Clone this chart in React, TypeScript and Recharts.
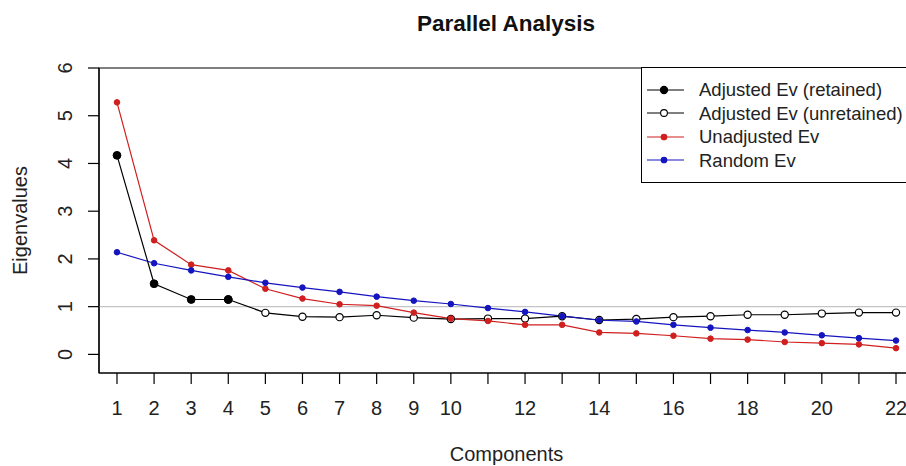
import { LineChart, Line, XAxis, YAxis, ReferenceLine, ReferenceArea, Legend } from 'recharts'

const components = [1, 2, 3, 4, 5, 6, 7, 8, 9, 10, 11, 12, 13, 14, 15, 16, 17, 18, 19, 20, 21, 22]
const adjustedEv = [4.17, 1.48, 1.15, 1.15, 0.87, 0.79, 0.78, 0.82, 0.77, 0.74, 0.75, 0.75, 0.8, 0.72, 0.74, 0.78, 0.8, 0.83, 0.83, 0.855, 0.875, 0.875]
const unadjustedEv = [5.28, 2.39, 1.88, 1.76, 1.375, 1.17, 1.05, 1.02, 0.875, 0.75, 0.7, 0.62, 0.62, 0.46, 0.44, 0.39, 0.33, 0.31, 0.26, 0.235, 0.21, 0.13]
const randomEv = [2.14, 1.91, 1.76, 1.625, 1.5, 1.4, 1.31, 1.21, 1.125, 1.056, 0.97, 0.89, 0.8, 0.715, 0.69, 0.62, 0.56, 0.51, 0.46, 0.4, 0.34, 0.29]
const retainedCount = 4
const xTickLabels = [1, 2, 3, 4, 5, 6, 7, 8, 9, 10, 12, 14, 16, 18, 20, 22]
const yTicks = [0, 1, 2, 3, 4, 5, 6]

const X_DOMAIN: [number, number] = [0.515, 22.485]
const Y_DOMAIN: [number, number] = [-0.39, 6]

const RED = '#d01f1f'
const BLUE = '#1515c0'
const FONT = '"Liberation Sans", Arial, sans-serif'

const data = components.map((c, i) => ({
  comp: c,
  retained: i < retainedCount ? adjustedEv[i] : null,
  unretained: i >= retainedCount - 1 ? adjustedEv[i] : null,
  unadjusted: unadjustedEv[i],
  random: randomEv[i],
}))

const legendItems = [
  { label: 'Adjusted Ev (retained)', color: '#000', fill: '#000', r: 3.6 },
  { label: 'Adjusted Ev (unretained)', color: '#000', fill: '#fff', r: 3.4 },
  { label: 'Unadjusted Ev', color: RED, fill: RED, r: 2.8 },
  { label: 'Random Ev', color: BLUE, fill: BLUE, r: 2.8 },
]

const XTick = ({ x, payload }: any) =>
  xTickLabels.includes(payload.value) ? (
    <text x={x} y={415} textAnchor="middle" fontSize={20} fill="#222" fontFamily={FONT}>
      {payload.value}
    </text>
  ) : null

const YTick = ({ y, payload }: any) => (
  <text x={72} y={y} transform={`rotate(-90 72 ${y})`} textAnchor="middle" fontSize={20} fill="#222" fontFamily={FONT}>
    {payload.value}
  </text>
)

const renderLegend = () => (
  <div
    style={{
      border: '1px solid #000',
      background: '#fff',
      width: 300,
      height: 116,
      boxSizing: 'border-box',
      paddingTop: 10,
      fontFamily: FONT,
    }}
  >
    {legendItems.map(item => (
      <div key={item.label} style={{ display: 'flex', alignItems: 'center', height: 23.5, lineHeight: '23.5px' }}>
        <svg width={56} height={20} style={{ flex: 'none' }}>
          <line x1={5} x2={42} y1={10} y2={10} stroke={item.color} strokeWidth={1.2} />
          <circle cx={22} cy={10} r={item.r} fill={item.fill} stroke={item.color} strokeWidth={1.1} />
        </svg>
        <span style={{ fontSize: 18.5, color: '#222', marginLeft: 1, whiteSpace: 'nowrap' }}>{item.label}</span>
      </div>
    ))}
  </div>
)

export default function App() {
  return (
    <div style={{ position: 'absolute', left: 0, top: 0, width: 906, height: 466, overflow: 'hidden', background: '#fff', fontFamily: FONT }}>
      <div
        style={{
          position: 'absolute',
          left: 306,
          top: 6,
          width: 400,
          textAlign: 'center',
          fontSize: 22.5,
          fontWeight: 'bold',
          color: '#111',
          lineHeight: '36px',
          zIndex: 1,
        }}
      >
        Parallel Analysis
      </div>
      <LineChart width={920} height={466} data={data} margin={{ top: 68, right: 6, bottom: 0, left: 0 }}>
        <ReferenceArea
          x1={X_DOMAIN[0]}
          x2={X_DOMAIN[1]}
          y1={Y_DOMAIN[0]}
          y2={Y_DOMAIN[1]}
          fill="none"
          fillOpacity={0}
          stroke="#000"
          strokeWidth={1.2}
          strokeOpacity={1}
        />
        <XAxis
          dataKey="comp"
          type="number"
          domain={X_DOMAIN}
          ticks={components}
          interval={0}
          allowDataOverflow
          height={93}
          tickSize={11}
          axisLine={{ stroke: '#000', strokeWidth: 1.2 }}
          tickLine={{ stroke: '#000', strokeWidth: 1.2 }}
          tick={<XTick />}
          label={({ viewBox }: any) => (
            <text x={viewBox ? viewBox.x + viewBox.width / 2 : 506} y={461} textAnchor="middle" fontSize={20} fill="#222" fontFamily={FONT}>
              Components
            </text>
          )}
        />
        <YAxis
          type="number"
          domain={Y_DOMAIN}
          ticks={yTicks}
          interval={0}
          allowDataOverflow
          width={99}
          tickSize={11}
          axisLine={{ stroke: '#000', strokeWidth: 1.2 }}
          tickLine={{ stroke: '#000', strokeWidth: 1.2 }}
          tick={<YTick />}
          label={({ viewBox }: any) => {
            const cy = viewBox ? viewBox.y + viewBox.height / 2 : 220
            return (
              <text x={27} y={cy} transform={`rotate(-90 27 ${cy})`} textAnchor="middle" fontSize={20} fill="#222" fontFamily={FONT}>
                Eigenvalues
              </text>
            )
          }}
        />
        <ReferenceLine y={1} stroke="#c4c4c4" strokeWidth={1.2} />
        <Line
          dataKey="unretained"
          type="linear"
          stroke="#000"
          strokeWidth={1.2}
          dot={{ r: 3.6, fill: '#fff', stroke: '#000', strokeWidth: 1.2 }}
          isAnimationActive={false}
        />
        <Line
          dataKey="unadjusted"
          type="linear"
          stroke={RED}
          strokeWidth={1.2}
          dot={{ r: 2.8, fill: RED, stroke: RED, strokeWidth: 1 }}
          isAnimationActive={false}
        />
        <Line
          dataKey="random"
          type="linear"
          stroke={BLUE}
          strokeWidth={1.2}
          dot={{ r: 2.8, fill: BLUE, stroke: BLUE, strokeWidth: 1 }}
          isAnimationActive={false}
        />
        <Line
          dataKey="retained"
          type="linear"
          stroke="#000"
          strokeWidth={1.2}
          dot={{ r: 3.9, fill: '#000', stroke: '#000', strokeWidth: 1 }}
          isAnimationActive={false}
        />
        <Legend
          layout="horizontal"
          verticalAlign="middle"
          align="center"
          content={renderLegend}
          wrapperStyle={{ position: 'absolute', left: 641, top: 67, width: 300, height: 116 }}
        />
      </LineChart>
    </div>
  )
}
